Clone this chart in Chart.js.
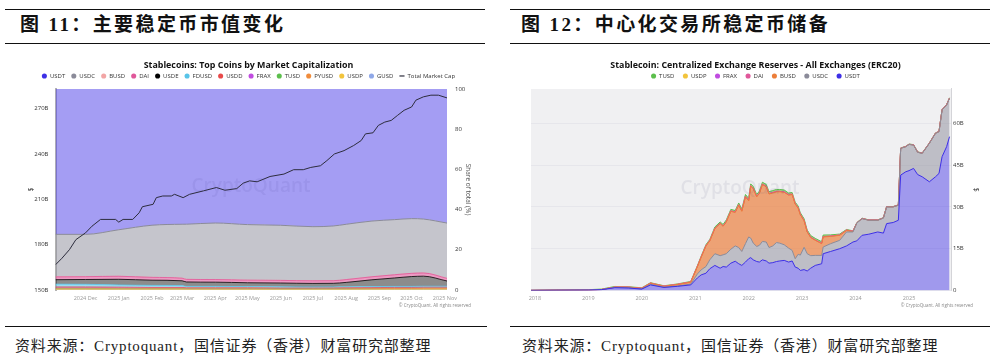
<!DOCTYPE html>
<html>
<head>
<meta charset="utf-8">
<script src="https://cdn.jsdelivr.net/npm/chart.js@4.4.1/dist/chart.umd.min.js"></script>
<style>
  html,body{margin:0;padding:0;background:#fff;}
  body{width:997px;height:361px;position:relative;overflow:hidden;font-family:"Liberation Serif","Noto Sans CJK SC",serif;}
  .rule{position:absolute;height:0;border-top:1.5px solid #111;}
  .hd{position:absolute;top:13px;font-size:19px;font-weight:bold;color:#111;white-space:nowrap;letter-spacing:2.4px;line-height:24px;}
  .src{position:absolute;top:337px;font-size:15px;color:#222;white-space:nowrap;line-height:18px;letter-spacing:0.82px;}
  .wrap{position:absolute;top:48px;height:270px;}
</style>
</head>
<body>
<div class="rule" style="left:5px;width:480px;top:9px"></div>
<div class="rule" style="left:5px;width:480px;top:43px"></div>
<div class="rule" style="left:510px;width:480px;top:9px"></div>
<div class="rule" style="left:510px;width:480px;top:43px"></div>
<div class="hd" style="left:20px">图 11：主要稳定币市值变化</div>
<div class="hd" style="left:521px">图 12：中心化交易所稳定币储备</div>

<div class="wrap" style="left:0;width:497px"><canvas id="capChart"></canvas></div>
<div class="wrap" style="left:497px;width:483px"><canvas id="cexChart"></canvas></div>

<div class="rule" style="left:5px;width:482px;top:326px"></div>
<div class="rule" style="left:510px;width:480px;top:326px"></div>
<div class="src" style="left:15px">资料来源：Cryptoquant，国信证券（香港）财富研究部整理</div>
<div class="src" style="left:522px">资料来源：Cryptoquant，国信证券（香港）财富研究部整理</div>

<script>
// ---- left: total market cap ($B) ----
const capDates = ['2024-11-03','2024-11-09','2024-11-16','2024-11-22','2024-12-01','2024-12-07','2024-12-15','2024-12-29','2025-01-01','2025-01-05','2025-01-14','2025-01-20','2025-01-23','2025-02-02','2025-02-05','2025-02-11','2025-02-19','2025-02-22','2025-03-02','2025-03-08','2025-03-21','2025-04-02','2025-04-10','2025-04-21','2025-04-27','2025-05-03','2025-05-10','2025-05-22','2025-06-04','2025-06-13','2025-06-22','2025-06-29','2025-07-08','2025-07-14','2025-07-21','2025-07-30','2025-08-08','2025-08-15','2025-08-19','2025-08-26','2025-08-31','2025-09-06','2025-09-12','2025-09-18','2025-09-24','2025-10-01','2025-10-05','2025-10-12','2025-10-19','2025-10-26','2025-11-03'];
const capValues = [166.7,171,176.7,183.3,187.8,192.2,196.7,196.7,194.9,196.7,196.7,201.1,205.1,206.7,211.1,212.2,212.2,213.3,211.1,213.3,215.6,217.8,216,217.1,220.7,222.2,221.6,225.1,226.7,229.6,229.6,231.1,232.2,235.6,240,242.2,245.6,248.9,253.3,254,258.9,261.1,262.2,265.6,268.9,271.1,275.6,277.8,278.9,278.9,277.1];
const capTicks = [150, 180, 210, 240, 270];
const capTickDates = ['2024-12-01','2025-01-01','2025-02-01','2025-03-01','2025-04-01','2025-05-01','2025-06-01','2025-07-01','2025-08-01','2025-09-01','2025-10-01','2025-11-01'];
const capTickLabels = ['2024 Dec','2025 Jan','2025 Feb','2025 Mar','2025 Apr','2025 May','2025 Jun','2025 Jul','2025 Aug','2025 Sep','2025 Oct','2025 Nov'];

// ---- left: share of total (%) ----
const shareDates = ['2024-11-03','2024-12-01','2025-01-01','2025-02-01','2025-03-01','2025-03-05','2025-04-01','2025-05-01','2025-06-01','2025-07-01','2025-07-20','2025-08-01','2025-08-25','2025-09-15','2025-10-01','2025-10-12','2025-11-03'];
const shareUSDT  = [72.3,72.3,70,67.8,67.3,67.3,66.7,67.5,67.8,68.5,68.2,67.3,65.7,65,64.5,64.7,66.7];
const shareUSDC  = [21.1,21.0,23.1,25.9,26.8,27.4,28.1,27.6,27.4,26.9,27.2,27.5,27.7,27.4,27.2,26.8,27.5];
const shareBUSD  = [0.05,0.05,0.04,0.04,0.03,0.03,0.03,0.03,0.02,0.02,0.02,0.02,0.02,0.02,0.02,0.02,0.02];
const shareDAI   = [1.4,1.4,1.5,1.4,1.3,1.3,1.3,1.3,1.3,1.3,1.3,1.4,1.5,1.6,1.6,1.6,1.3];
const shareUSDE  = [2.2,2.4,2.8,2.6,2.4,2.2,2.1,1.9,1.9,1.8,1.8,2.2,3.4,4.2,4.9,5.0,2.6];
const shareFDUSD = [1.4,1.3,1.1,1.0,0.9,0.7,0.7,0.6,0.6,0.5,0.5,0.5,0.5,0.5,0.5,0.5,0.5];
const shareUSDD  = [0.5,0.5,0.45,0.4,0.4,0.35,0.35,0.35,0.3,0.3,0.3,0.3,0.3,0.3,0.3,0.3,0.3];
const shareFRAX  = [0.2,0.2,0.2,0.15,0.15,0.12,0.12,0.12,0.1,0.1,0.1,0.1,0.1,0.1,0.1,0.1,0.1];
const shareTUSD  = [0.3,0.3,0.25,0.2,0.2,0.15,0.15,0.15,0.15,0.15,0.15,0.15,0.15,0.15,0.15,0.15,0.15];
const sharePYUSD = [0.2,0.2,0.2,0.2,0.2,0.2,0.2,0.2,0.2,0.2,0.25,0.3,0.4,0.5,0.5,0.6,0.6];
const shareUSDP  = [0.3,0.3,0.3,0.3,0.3,0.25,0.25,0.25,0.2,0.2,0.2,0.2,0.2,0.2,0.2,0.2,0.2];
const shareGUSD  = [0.03,0.03,0.03,0.03,0.03,0.03,0.03,0.03,0.03,0.03,0.03,0.03,0.03,0.03,0.03,0.03,0.03];

// ---- right: exchange reserves ($B) ----
const cexDates = ['2017-12-05','2018-06-01','2019-01-01','2019-04-01','2019-07-01','2019-10-01','2020-01-01','2020-03-01','2020-06-01','2020-09-01','2020-12-01',
  '2021-01-15','2021-02-10','2021-03-15','2021-04-10','2021-05-15','2021-06-20','2021-07-10','2021-08-01','2021-09-01','2021-10-01','2021-10-25','2021-11-15','2021-12-10',
  '2022-01-01','2022-01-15','2022-02-01','2022-02-25','2022-03-15','2022-04-05','2022-05-01','2022-05-20','2022-06-15','2022-07-10','2022-08-01','2022-09-01','2022-10-01','2022-10-25','2022-11-15','2022-12-05','2022-12-20',
  '2023-01-15','2023-02-05','2023-03-01','2023-04-01','2023-05-15','2023-05-25','2023-07-15','2023-09-15','2023-11-01','2023-12-15',
  '2024-01-10','2024-02-15','2024-04-01','2024-06-01','2024-07-10','2024-08-01','2024-09-15','2024-10-20',
  '2024-11-05','2024-12-10','2025-01-01','2025-02-01','2025-03-01','2025-04-01','2025-05-20','2025-07-01','2025-07-25','2025-08-15','2025-09-15','2025-10-05'];
const cexUSDT = [0.05,0.1,0.15,0.3,1.0,0.9,0.5,2.0,1.1,1.5,2.0,
  4.5,5.6,6.2,7.8,9.0,8.0,8.6,8.4,9.8,10.5,9.6,9.0,10.2,
  11.4,11.8,11.0,10.4,10.2,11.0,10.6,9.8,10.0,10.4,10.6,10.8,10.2,10.6,8.4,8.0,7.2,
  7.5,7.0,8.0,9.0,9.6,13.2,14.0,15.0,16.0,17.4,
  17.8,19.8,20.2,21.0,20.6,24.0,24.4,25.2,
  41.4,42.6,43.0,43.8,41.6,40.8,39.0,40.8,42.0,48.0,51.6,55.2];
const cexUSDC = [0,0.02,0.05,0.05,0.1,0.1,0.1,0.2,0.1,0.15,0.3,
  1.4,1.8,2.4,3.2,4.2,4.5,4.2,4.8,5.0,5.5,5.8,5.0,6.6,
  7.8,7.0,6.0,5.4,6.0,6.6,6.8,5.6,6.0,6.8,6.4,5.6,5.0,3.8,3.0,5.0,5.5,
  8.0,6.2,4.5,3.6,3.0,2.4,2.8,3.0,5.0,3.6,
  6.4,6.0,5.0,4.2,5.4,6.0,5.6,5.4,
  9.6,9.0,9.4,8.4,8.0,8.4,13.8,15.6,15.0,16.8,15.0,13.8];
const cexBUSD = [0,0,0,0,0.1,0.2,0.2,0.4,0.3,0.5,0.7,
  2.6,4.5,7.4,6.8,9.0,11.5,10.2,11.4,13.6,12.0,15.2,14.4,16.8,
  13.0,18.6,19.5,17.8,18.6,20.4,19.8,19.2,19.0,18.2,18.4,18.8,19.0,20.0,19.6,16.6,14.5,
  9.5,7.8,6.5,5.4,4.2,3.6,2.6,1.8,0.6,0.2,
  0,0,0,0,0,0,0,0,
  0,0,0,0,0,0,0,0,0,0,0,0];
const cexDAI = [0,0,0,0,0,0,0.02,0.05,0.05,0.05,0.05,
  0.1,0.1,0.1,0.1,0.15,0.15,0.15,0.15,0.15,0.15,0.15,0.15,0.15,
  0.15,0.15,0.15,0.15,0.15,0.15,0.15,0.15,0.15,0.15,0.15,0.15,0.15,0.15,0.1,0.1,0.1,
  0.1,0.1,0.1,0.1,0.1,0.1,0.1,0.1,0.05,0.05,
  0.05,0.05,0.05,0.05,0.05,0.05,0.05,0.05,
  0.05,0.05,0.05,0.05,0.05,0.05,0.05,0.05,0.05,0.05,0.05,0.05];
const cexFRAX = [0,0,0,0,0,0,0,0,0,0,0,
  0,0,0,0,0,0,0,0,0,0,0,0.05,0.05,
  0.05,0.05,0.05,0.05,0.05,0.05,0.05,0.05,0.05,0.05,0.05,0.05,0.05,0.05,0.05,0.05,0.05,
  0.05,0.05,0.05,0.05,0.05,0.05,0.02,0.02,0.02,0.02,
  0.02,0.02,0.02,0.02,0.02,0.02,0.02,0.02,
  0.02,0.02,0.02,0.02,0.02,0.02,0.02,0.02,0.02,0.02,0.02,0.02];
const cexUSDP = [0,0.03,0.05,0.05,0.05,0.05,0.05,0.05,0.05,0.05,0.05,
  0.05,0.05,0.05,0.05,0.05,0.05,0.05,0.05,0.05,0.05,0.05,0.05,0.05,
  0.05,0.05,0.05,0.05,0.05,0.05,0.05,0.05,0.05,0.05,0.05,0.05,0.05,0.05,0.05,0.05,0.05,
  0.05,0.05,0.05,0.05,0.05,0.05,0.03,0.03,0.03,0.03,
  0.02,0.02,0.02,0.02,0.02,0.02,0.02,0.02,
  0.02,0.02,0.02,0.02,0.02,0.02,0.02,0.02,0.02,0.02,0.02,0.02];
const cexTUSD = [0,0.02,0.05,0.1,0.2,0.1,0.1,0.1,0.1,0.1,0.15,
  0.2,0.25,0.3,0.35,0.4,0.4,0.5,0.5,0.5,0.5,0.6,0.6,0.6,
  0.6,0.6,0.6,0.6,0.6,0.6,0.6,0.6,0.6,0.6,0.6,0.6,0.5,0.5,0.5,0.5,0.5,
  0.5,0.5,0.5,0.5,0.5,0.5,0.4,0.3,0.2,0.1,
  0.05,0.05,0.05,0.05,0.05,0.05,0.05,0.05,
  0.05,0.05,0.05,0.05,0.05,0.05,0.05,0.05,0.05,0.05,0.05,0.05];
const cexTicks = [0, 15, 30, 45, 60];
const cexYears = ['2018','2019','2020','2021','2022','2023','2024','2025'];

// ---- helpers ----
const day = s => { const [y, m, d] = s.split('-').map(Number); return Date.UTC(y, m - 1, d) / 864e5; };
const rgba = (hex, a) => { const n = parseInt(hex.slice(1), 16); return `rgba(${n >> 16},${(n >> 8) & 255},${n & 255},${a})`; };
const pts = (dates, vals) => dates.map((d, i) => ({x: day(d), y: vals[i]}));

const colors = {
  USDT:'#3d2fe6', USDC:'#8b8b99', BUSD:'#f2a5a5', DAI:'#e0579a', USDE:'#000000', FDUSD:'#58c4e8',
  USDD:'#e84a4a', FRAX:'#c04ce0', TUSD:'#5cbf4c', PYUSD:'#f08c3c', USDP:'#f2c43c', GUSD:'#8fa8e8'
};

Chart.defaults.font.family = "'Open Sans', 'Noto Sans', sans-serif";
Chart.defaults.color = '#333';
Chart.defaults.animation = false;

// legend dots drawn solid like the original
const solidLabels = chart => Chart.defaults.plugins.legend.labels.generateLabels(chart).map(l => ({
  ...l, fillStyle: l.strokeStyle, lineWidth: l.pointStyle === 'line' ? 1.2 : 0
}));

const legendOpts = pad => ({
  reverse: true,
  labels: { usePointStyle: true, boxWidth: 5, boxHeight: 3.6, padding: pad, color: '#333', font: {size: 6}, generateLabels: solidLabels }
});
const titleOpts = (text, padBottom) => ({ display: true, text, color: '#111', font: {size: 8.9, weight: 'bold'}, padding: {top: 11.7, bottom: padBottom} });

// background, watermark, copyright
const decor = {
  id: 'decor',
  beforeDraw(chart, args, o) {
    if (!o.bg) return;
    const {ctx, chartArea: a} = chart;
    ctx.save(); ctx.fillStyle = o.bg; ctx.fillRect(a.left, a.top, a.right - a.left, a.bottom - a.top); ctx.restore();
  },
  afterDraw(chart, args, o) {
    const ctx = chart.ctx;
    ctx.save();
    ctx.textBaseline = 'middle';
    ctx.textAlign = 'center';
    ctx.font = "600 19px 'Open Sans'";
    ctx.fillStyle = o.markColor;
    ctx.fillText('CryptoQuant', o.markX, o.markY);
    ctx.textAlign = 'right';
    ctx.font = "4.5px 'Open Sans'";
    ctx.fillStyle = '#888';
    ctx.fillText('© CryptoQuant. All rights reserved', o.noteX, o.noteY);
    ctx.restore();
  }
};

function share(label, vals, alpha, bw, first) {
  return {
    label, data: pts(shareDates, vals), yAxisID: 'y1',
    borderColor: colors[label], backgroundColor: rgba(colors[label], alpha), borderWidth: bw,
    pointRadius: 0, fill: first ? 'origin' : '-1', cubicInterpolationMode: 'monotone'
  };
}

new Chart(document.getElementById('capChart'), {
  type: 'line',
  data: { datasets: [
    share('GUSD', shareGUSD, 0.6, 0.5, true),
    share('USDP', shareUSDP, 0.6, 0.8),
    share('PYUSD', sharePYUSD, 0.6, 0.8),
    share('TUSD', shareTUSD, 0.6, 0.5),
    share('FRAX', shareFRAX, 0.6, 0.5),
    share('USDD', shareUSDD, 0.6, 0.8),
    share('FDUSD', shareFDUSD, 0.6, 0.8),
    share('USDE', shareUSDE, 0.45, 0.8),
    share('DAI', shareDAI, 0.6, 0.8),
    share('BUSD', shareBUSD, 0.6, 0.5),
    share('USDC', shareUSDC, 0.5, 1),
    share('USDT', shareUSDT, 0.47, 0),
    { label: 'Total Market Cap', data: pts(capDates, capValues), yAxisID: 'y', order: -1,
      borderColor: '#2d2d3d', backgroundColor: '#2d2d3d', borderWidth: 1, pointRadius: 0, pointStyle: 'line', fill: false, tension: 0 }
  ]},
  options: {
    responsive: true, maintainAspectRatio: false, devicePixelRatio: 1,
    layout: { padding: 0 },
    plugins: {
      title: titleOpts('Stablecoins: Top Coins by Market Capitalization', -3.5),
      legend: legendOpts(6.1),
      tooltip: { enabled: false },
      decor: { markX: 251, markY: 139, markColor: 'rgba(70,60,140,0.09)', noteX: 471, noteY: 257.5 }
    },
    scales: {
      x: {
        type: 'linear', min: day('2024-11-03'), max: day('2025-11-03'),
        grid: { display: false, drawTicks: false }, border: { display: false },
        afterBuildTicks: s => { s.ticks = capTickDates.map(d => ({value: day(d)})); },
        ticks: { autoSkip: false, maxRotation: 0, padding: 5, color: '#9a9a9a', font: {size: 5.5},
                 callback: v => capTickLabels[capTickDates.findIndex(d => day(d) === v)] },
        afterFit: s => { s.height = 28; }
      },
      y: {
        position: 'left', min: 150, max: 283,
        grid: { display: false, drawTicks: false }, border: { display: true, color: '#b4b4b4', width: 2 },
        afterBuildTicks: s => { s.ticks = capTicks.map(v => ({value: v})); },
        ticks: { color: '#333', font: {size: 6}, padding: 7, callback: v => v + 'B' },
        title: { display: true, text: '$', color: '#333', font: {size: 7}, padding: {top: 26.8, bottom: 0} },
        afterFit: s => { s.width = 55.5; }
      },
      y1: {
        position: 'right', min: 0, max: 100, stacked: true,
        grid: { display: false, drawTicks: false }, border: { display: false },
        ticks: { stepSize: 20, color: '#333', font: {size: 6}, padding: 8 },
        title: { display: true, text: 'Share of total (%)', color: '#555', font: {size: 6.5}, padding: {top: 25, bottom: 0} },
        afterFit: s => { s.width = 50; }
      }
    }
  },
  plugins: [decor]
});

const cexColors = { USDT:'#3d2fe6', USDC:'#8b8b99', BUSD:'#ec7e3a', DAI:'#e0579a', FRAX:'#c04ce0', USDP:'#f2c43c', TUSD:'#5cbf4c' };
function reserve(label, vals, alpha, first) {
  return {
    label, data: pts(cexDates, vals),
    borderColor: cexColors[label], backgroundColor: rgba(cexColors[label], alpha), borderWidth: 1,
    pointRadius: 0, fill: first ? 'origin' : '-1', tension: 0
  };
}

new Chart(document.getElementById('cexChart'), {
  type: 'line',
  data: { datasets: [
    reserve('USDT', cexUSDT, 0.45, true),
    reserve('USDC', cexUSDC, 0.5),
    reserve('BUSD', cexBUSD, 0.68),
    reserve('DAI', cexDAI, 0.6),
    reserve('FRAX', cexFRAX, 0.6),
    reserve('USDP', cexUSDP, 0.6),
    reserve('TUSD', cexTUSD, 0.6)
  ]},
  options: {
    responsive: true, maintainAspectRatio: false, devicePixelRatio: 1,
    layout: { padding: {left: 34} },
    plugins: {
      title: titleOpts('Stablecoin: Centralized Exchange Reserves - All Exchanges (ERC20)', -5.9),
      legend: legendOpts(8.5),
      tooltip: { enabled: false },
      decor: { bg: '#f0f0f2', markX: 243, markY: 141, markColor: 'rgba(90,90,130,0.1)', noteX: 476, noteY: 258 }
    },
    scales: {
      x: {
        type: 'linear', min: day('2017-12-05'), max: day('2025-10-15'),
        grid: { display: false, drawTicks: false }, border: { display: false },
        afterBuildTicks: s => { s.ticks = cexYears.map(y => ({value: day(y + '-01-01')})); },
        ticks: { autoSkip: false, maxRotation: 0, padding: 5, color: '#9a9a9a', font: {size: 5.5},
                 callback: v => cexYears.find(y => day(y + '-01-01') === v) },
        afterFit: s => { s.height = 27.5; }
      },
      y: {
        position: 'right', min: 0, max: 72.3, stacked: true,
        grid: { color: '#e3e3e8', lineWidth: 0.8, drawTicks: false }, border: { display: true, color: '#d4d4d8', width: 1 },
        afterBuildTicks: s => { s.ticks = cexTicks.map(v => ({value: v})); },
        ticks: { color: '#333', font: {size: 6}, padding: 2, callback: v => v === 0 ? '0' : v + 'B' },
        title: { display: true, text: '$', color: '#333', font: {size: 7}, padding: {top: 0, bottom: 0} },
        afterFit: s => { s.width = 29; }
      }
    }
  },
  plugins: [decor]
});
</script>
</body>
</html>
